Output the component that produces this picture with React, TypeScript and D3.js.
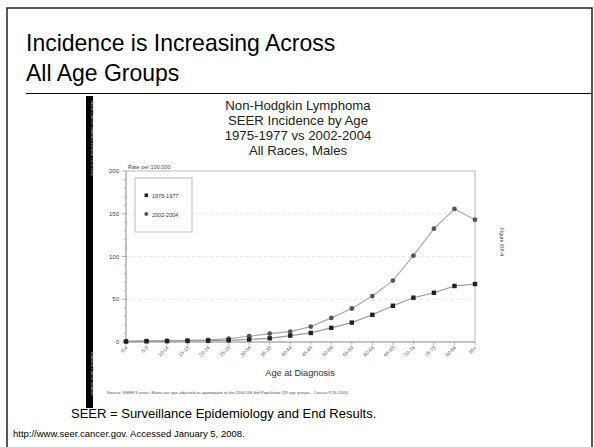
import React from "react";
import * as d3 from "d3";

const ageGroups = ["0-4","5-9","10-14","15-19","20-24","25-29","30-34","35-39","40-44","45-49","50-54","55-59","60-64","65-69","70-74","75-79","80-84","85+"];
const rates1975 = [0.5,0.8,1.0,1.2,1.5,2.0,3.0,4.3,7.5,10.6,16.5,22.7,31.8,42.4,51.8,57.6,65.5,67.8];
const rates2002 = [1.0,1.2,1.5,2.0,2.4,3.9,6.7,9.8,12.2,18.0,28.2,39.2,53.7,71.8,101,132.5,155.7,143];
const yTicks = [0,50,100,150,200];
const seriesNames = ["1975-1977","2002-2004"];
const chartTitle = ["Non-Hodgkin Lymphoma","SEER Incidence by Age","1975-1977 vs 2002-2004","All Races, Males"];

export default function App() {
  const W = 594, H = 447;
  const x = d3.scalePoint<string>().domain(ageGroups).range([126, 475]);
  const y = d3.scaleLinear().domain([0, 200]).range([342, 171]);
  const line = d3.line<number>().x((_, i) => x(ageGroups[i])!).y(d => y(d));
  const minor = d3.range(0, 201, 10);
  const font = "Liberation Sans, Arial, sans-serif";
  return (
    <svg width={W} height={H} style={{ position: "absolute", left: 0, top: 0, background: "#fff" }} fontFamily={font}>
      <rect x={7} y={8} width={585} height={460} fill="none" stroke="#222" strokeWidth={1.5} />
      <g transform="translate(26,0) scale(0.958,1)">
        <text x={0} y={51} fontSize={24} fill="#000">Incidence is Increasing Across</text>
        <text x={0} y={81} fontSize={24} fill="#000">All Age Groups</text>
      </g>
      <line x1={26} x2={592} y1={93.5} y2={93.5} stroke="#000" strokeWidth={1} />

      {/* left black strip */}
      <rect x={86} y={96} width={7} height={312} fill="#000" />
      <text transform="translate(90.5,100) rotate(90)" fontSize={4} fill="#bbb">SEER Cancer Statistics Review 1975-2004</text>
      <text transform="translate(90.5,352) rotate(90)" fontSize={4} fill="#bbb">National Cancer Institute</text>

      {chartTitle.map((t, i) => (
        <text key={t} x={298} y={109.5 + i * 15} textAnchor="middle" fontSize={13.2} fill="#222">{t}</text>
      ))}

      {/* gridlines */}
      {yTicks.slice(1, 4).map(v => (
        <line key={v} x1={126} x2={475} y1={y(v)} y2={y(v)} stroke="#ddd" strokeDasharray="3,3" strokeWidth={0.8} />
      ))}
      {/* frame */}
      <path d={`M126,${y(200)}H475V${y(0)}`} fill="none" stroke="#bbb" strokeWidth={1} />
      <line x1={126} x2={475} y1={y(0)} y2={y(0)} stroke="#888" strokeWidth={1} />
      <line x1={126} x2={126} y1={y(0)} y2={y(200)} stroke="#888" strokeWidth={1} />
      {minor.map(v => (
        <line key={v} x1={v % 50 === 0 ? 122 : 124} x2={126} y1={y(v)} y2={y(v)} stroke="#888" strokeWidth={0.6} />
      ))}
      {yTicks.map(v => (
        <text key={v} x={119} y={y(v) + 2} textAnchor="end" fontSize={6} fill="#444">{v}</text>
      ))}
      <text x={128} y={169} fontSize={5.5} fill="#444">Rate per 100,000</text>

      {/* x ticks */}
      {ageGroups.map(g => (
        <g key={g}>
          <line x1={x(g)} x2={x(g)} y1={y(0)} y2={y(0) + 3} stroke="#888" strokeWidth={0.6} />
          <text transform={`translate(${x(g)! + 2},${y(0) + 6}) rotate(-45)`} textAnchor="end" fontSize={5} fill="#555">{g}</text>
        </g>
      ))}
      <text x={300} y={376} textAnchor="middle" fontSize={9.2} fill="#333">Age at Diagnosis</text>

      {/* lines */}
      <path d={line(rates2002)!} fill="none" stroke="#aaa" strokeWidth={1.2} />
      <path d={line(rates1975)!} fill="none" stroke="#999" strokeWidth={1.2} />
      {rates2002.map((d, i) => (
        <circle key={i} cx={x(ageGroups[i])} cy={y(d)} r={2.4} fill="#555" />
      ))}
      {rates1975.map((d, i) => (
        <rect key={i} x={x(ageGroups[i])! - 2.2} y={y(d) - 2.2} width={4.4} height={4.4} fill="#222" />
      ))}

      {/* legend */}
      <rect x={135} y={178} width={57} height={54} fill="#fff" stroke="#bbb" strokeWidth={1} />
      <rect x={144.5} y={193.5} width={3.5} height={3.5} fill="#222" />
      <text x={152} y={197.5} fontSize={5.5} fill="#333">{seriesNames[0]}</text>
      <circle cx={146.3} cy={214} r={2} fill="#555" />
      <text x={152} y={216.5} fontSize={5.5} fill="#333">{seriesNames[1]}</text>

      <text transform="translate(500,228) rotate(90)" fontSize={5} fill="#444">Figure XIX-4</text>

      <text x={107} y={393.5} fontSize={4.2} fill="#555">Source: SEER 9 areas. Rates are age-adjusted as appropriate to the 2000 US Std Population (19 age groups - Census P25-1103).</text>

      <text x={71} y={418} fontSize={13} fill="#000">SEER = Surveillance Epidemiology and End Results.</text>
      <text x={13} y={437} fontSize={9.5} fill="#000">http://www.seer.cancer.gov. Accessed January 5, 2008.</text>
    </svg>
  );
}
